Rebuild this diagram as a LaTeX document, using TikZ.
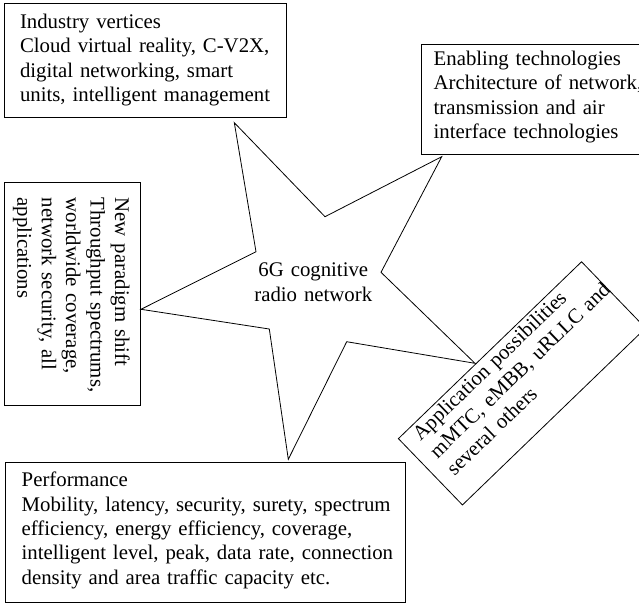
\documentclass[tikz,border=0pt]{standalone}
\usepackage{fontspec}
\setmainfont{Liberation Serif}
\newcommand\figfont{\fontsize{20.8}{24.4}\selectfont}
\tikzset{
  box/.style={draw, line width=0.8pt, inner ysep=0pt, align=left, font=\figfont},
  starline/.style={draw, line width=0.8pt, line join=miter},
}
\begin{document}
\begin{tikzpicture}[x=1pt,y=-1pt]
\useasboundingbox (0,0) rectangle (639,606);
\clip (0,0) rectangle (639,606);
\fill[white] (0,0) rectangle (639,606);

% boxes
\node[box, inner xsep=15.3pt, text width=251.4pt, minimum width=282pt, minimum height=114pt,
      text height=25pt, text depth=89pt] (industry) at (145.7,60.3)
  {\mbox{Industry vertices}\\\mbox{Cloud virtual reality, C-V2X,}\\\mbox{digital networking, smart}\\\mbox{units, intelligent management}};

\node[box, anchor=north west, inner xsep=12.6pt, text width=224.8pt, minimum width=250pt, minimum height=109.7pt,
      text height=20.7pt, text depth=89pt] (enabling) at (420.7,44.3)
  {\mbox{Enabling technologies}\\\mbox{Architecture of network,}\\\mbox{transmission and air}\\\mbox{interface technologies}};

\node[box, rotate=-90, inner xsep=15pt, text width=192.3pt, minimum width=222.3pt, minimum height=136pt,
      text height=25.7pt, text depth=110.3pt] (paradigm) at (72.7,293.85)
  {\mbox{New paradigm shift}\\\mbox{Throughput spectrums,}\\\mbox{worldwide coverage,}\\\mbox{network security, all}\\\mbox{applications}};

\node[box, rotate=44, inner xsep=14pt, text width=226.6pt, minimum width=254.6pt, minimum height=92.2pt,
      text height=17.5pt, text depth=74.7pt] (application) at (522,383.35)
  {\mbox{Application possibilities}\\\mbox{mMTC, eMBB, uRLLC and}\\\mbox{several others}};

\node[box, inner xsep=16.7pt, text width=367.3pt, minimum width=400.7pt, minimum height=139.6pt,
      text height=24pt, text depth=115.6pt] (performance) at (205.35,532.5)
  {\mbox{Performance}\\\mbox{Mobility, latency, security, surety, spectrum}\\\mbox{efficiency, energy efficiency, coverage,}\\\mbox{intelligent level, peak, data rate, connection}\\\mbox{density and area traffic capacity etc.}};

% star
\coordinate (t1) at (234.3,122.7);
\coordinate (i1) at (325,216.7);
\coordinate (t2) at (441.7,156.7);
\coordinate (i2) at (381,272.3);
\coordinate (t3) at (475,363.3);
\coordinate (i3) at (346.7,341.7);
\coordinate (t4) at (288.3,459.3);
\coordinate (i4) at (269.3,329);
\coordinate (t5) at (141,309.3);
\coordinate (i5) at (256,251.7);
\draw[starline] (t1) -- (i1) -- (t2) -- (i2) -- (t3) -- (i3) -- (t4) -- (i4) -- (t5) -- (i5) -- cycle;

\node[font=\figfont, align=center, text width=150pt, anchor=base, inner sep=0pt] (core) at (313.3,276.7)
  {6G cognitive\\radio network};
\end{tikzpicture}
\end{document}
